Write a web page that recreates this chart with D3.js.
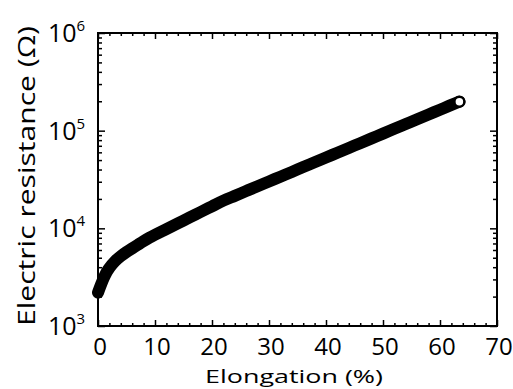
<!DOCTYPE html>
<html>
<head>
<meta charset="utf-8">
<script src="https://cdn.jsdelivr.net/npm/d3@7"></script>
<style>
  body { margin: 0; background: #fff; }
  text { font-family: "Open Sans", sans-serif; fill: #000; }
</style>
</head>
<body>
<div id="chart"></div>
<script>
// values
const elongation = [0, 0.5, 1, 1.5, 2, 3, 4, 5, 6, 7, 8, 9, 10, 12, 14, 16, 18, 20,
  22, 24, 26, 28, 30, 32, 34, 36, 38, 40, 42, 44, 46, 48, 50, 52, 54, 56, 58, 60, 62, 63.4];
const resistance = [2200, 2630, 3090, 3550, 3940, 4620, 5190, 5730, 6240, 6800, 7400, 8000, 8600,
  9840, 11250, 12850, 14700, 16800, 19200, 21500, 24100, 27000, 30200, 33800, 37800, 42400,
  47400, 53100, 59400, 66500, 74500, 83400, 93300, 104500, 117000, 131000, 146600, 164000,
  183600, 198000];
const xTicks = [0, 10, 20, 30, 40, 50, 60, 70];
const yDecades = [3, 4, 5, 6];

let w = 513;
let h = 389;
let mLeft = 98, mRight = 497, mTop = 33, mBottom = 326;

let svg = d3.select("#chart")
    .append("svg")
    .attr("width", w)
    .attr("height", h);

let xScale = d3.scaleLinear().domain([0, 70]).range([mLeft, mRight]);
let yScale = d3.scaleLog().domain([1e3, 1e6]).range([mBottom, mTop]);

let data = elongation.map((e, i) => ({x: e, y: resistance[i]}));

// minor ticks every 2 %
let xMinor = d3.range(0, 70.01, 2).filter(v => v % 10 != 0);
let yMinor = [];
yDecades.slice(0, 3).forEach(d => {
    for (let k = 2; k <= 9; k++) yMinor.push(k * Math.pow(10, d));
});

// frame axes: ticks pointing inward
svg.append("g").attr("transform", "translate(0," + mBottom + ")")
    .call(d3.axisBottom(xScale).tickValues(xTicks).tickSize(-6).tickFormat(""));
svg.append("g").attr("transform", "translate(0," + mBottom + ")")
    .call(d3.axisBottom(xScale).tickValues(xMinor).tickSize(-3).tickFormat(""));
svg.append("g").attr("transform", "translate(0," + mTop + ")")
    .call(d3.axisTop(xScale).tickValues(xTicks).tickSize(-6).tickFormat(""));
svg.append("g").attr("transform", "translate(0," + mTop + ")")
    .call(d3.axisTop(xScale).tickValues(xMinor).tickSize(-3).tickFormat(""));

let yMajor = yDecades.map(d => Math.pow(10, d));
svg.append("g").attr("transform", "translate(" + mLeft + ",0)")
    .call(d3.axisLeft(yScale).tickValues(yMajor).tickSize(-7).tickFormat(""));
svg.append("g").attr("transform", "translate(" + mLeft + ",0)")
    .call(d3.axisLeft(yScale).tickValues(yMinor).tickSize(-4).tickFormat(""));
svg.append("g").attr("transform", "translate(" + mRight + ",0)")
    .call(d3.axisRight(yScale).tickValues(yMajor).tickSize(-7).tickFormat(""));
svg.append("g").attr("transform", "translate(" + mRight + ",0)")
    .call(d3.axisRight(yScale).tickValues(yMinor).tickSize(-4).tickFormat(""));

svg.selectAll(".domain").remove();
svg.selectAll(".tick line").attr("stroke", "#000").attr("stroke-width", 1.5);

svg.append("rect")
    .attr("x", mLeft).attr("y", mTop)
    .attr("width", mRight - mLeft).attr("height", mBottom - mTop)
    .attr("fill", "none").attr("stroke", "#000").attr("stroke-width", 2);

// tick labels
svg.selectAll(".xlab")
    .data(xTicks)
    .enter()
    .append("text")
    .attr("x", d => xScale(d) + 2)
    .attr("y", 355)
    .attr("text-anchor", "middle")
    .style("font-size", "24px")
    .text(d => d);

let ylab = svg.selectAll(".ylab")
    .data(yDecades)
    .enter()
    .append("text")
    .attr("x", 48)
    .attr("y", d => yScale(Math.pow(10, d)) + 9)
    .style("font-size", "25px");
ylab.append("tspan").text("10");
ylab.append("tspan").attr("dy", -11).style("font-size", "15px").text(d => d);

// axis titles
svg.append("text")
    .attr("x", 294)
    .attr("y", 383)
    .attr("text-anchor", "middle")
    .attr("textLength", 178)
    .attr("lengthAdjust", "spacingAndGlyphs")
    .style("font-size", "19px")
    .text("Elongation  (%)");

svg.append("text")
    .attr("transform", "translate(35,176) rotate(-90)")
    .attr("text-anchor", "middle")
    .attr("textLength", 300)
    .attr("lengthAdjust", "spacingAndGlyphs")
    .style("font-size", "23px")
    .text("Electric resistance  (Ω)");

// the data: densely packed markers
let line = d3.line()
    .x(d => xScale(d.x))
    .y(d => yScale(d.y))
    .curve(d3.curveMonotoneX);

svg.append("path")
    .datum(data)
    .attr("d", line)
    .attr("fill", "none")
    .attr("stroke", "#000")
    .attr("stroke-width", 12)
    .attr("stroke-linecap", "round");

let last = data[data.length - 1];
svg.append("circle")
    .attr("cx", xScale(last.x))
    .attr("cy", yScale(last.y))
    .attr("r", 5)
    .attr("fill", "#fff")
    .attr("stroke", "#000")
    .attr("stroke-width", 2.5);
</script>
</body>
</html>
